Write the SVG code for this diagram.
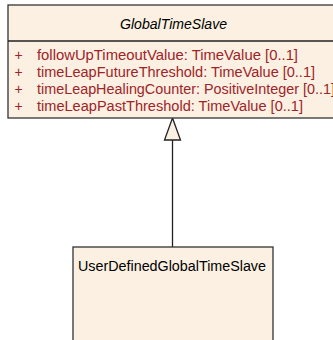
<svg xmlns="http://www.w3.org/2000/svg" width="333" height="340" viewBox="0 0 333 340">
<style>
.box{fill:#FBF0E2;stroke:#333333;stroke-width:1.3}
.t{font-family:"Liberation Sans",Arial,sans-serif;font-size:14px;fill:#000}
.a{font-family:"Liberation Sans",Arial,sans-serif;font-size:14px;fill:#9E2428}
.ln{stroke:#222;stroke-width:1.3;fill:none}
</style>
<rect width="333" height="340" fill="#ffffff"/>
<g id="connectors">
<line class="ln" x1="172.5" y1="140" x2="172.5" y2="247"/>
<polygon points="172.5,118 164.5,140 180.5,140" fill="#FBF0E2" stroke="#222" stroke-width="1.3"/>
</g>
<g id="GlobalTimeSlave">
<rect class="box" x="8" y="5" width="334" height="113"/>
<line class="ln" x1="8" y1="41" x2="342" y2="41"/>
<text class="t" x="173.5" y="29" text-anchor="middle" font-style="italic" textLength="107" lengthAdjust="spacingAndGlyphs">GlobalTimeSlave</text>
<text class="a" x="14.5" y="59.5">+</text>
<text class="a" x="37" y="59.5" textLength="261" lengthAdjust="spacingAndGlyphs">followUpTimeoutValue: TimeValue [0..1]</text>
<text class="a" x="14.5" y="76.5">+</text>
<text class="a" x="37" y="76.5" textLength="278" lengthAdjust="spacingAndGlyphs">timeLeapFutureThreshold: TimeValue [0..1]</text>
<text class="a" x="14.5" y="93.5">+</text>
<text class="a" x="37" y="93.5" textLength="298" lengthAdjust="spacingAndGlyphs">timeLeapHealingCounter: PositiveInteger [0..1]</text>
<text class="a" x="14.5" y="110.5">+</text>
<text class="a" x="37" y="110.5" textLength="266" lengthAdjust="spacingAndGlyphs">timeLeapPastThreshold: TimeValue [0..1]</text>
</g>
<g id="UserDefinedGlobalTimeSlave">
<rect class="box" x="73" y="247" width="200" height="110"/>
<text class="t" x="78" y="271" textLength="188" lengthAdjust="spacingAndGlyphs">UserDefinedGlobalTimeSlave</text>
</g>
</svg>
